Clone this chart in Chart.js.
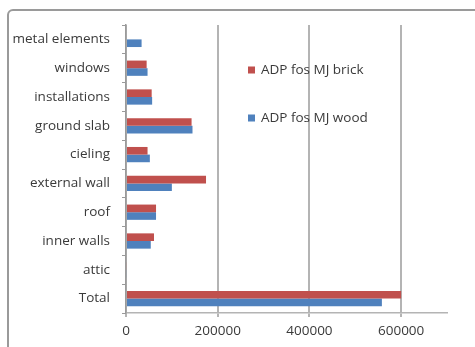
<!DOCTYPE html>
<html>
<head>
<meta charset="utf-8">
<script src="https://cdn.jsdelivr.net/npm/chart.js@4.4.0/dist/chart.umd.min.js"></script>
<style>
html,body{margin:0;padding:0;background:#fff;overflow:hidden;}
#wrap{position:relative;width:475px;height:347px;}
#frame{position:absolute;left:7px;top:9px;width:480px;height:360px;border:2px solid #9a9a9a;border-radius:6px;box-sizing:border-box;}
canvas{position:absolute;left:0;top:0;}
</style>
</head>
<body>
<div id="wrap">
<div id="frame"></div>
<canvas id="c" width="475" height="347"></canvas>
</div>
<script>
const categories = ["metal elements","windows","installations","ground slab","cieling","external wall","roof","inner walls","attic","Total"];
const brickValues = [0, 45000, 56000, 143000, 47000, 174500, 65500, 61000, 2000, 600000];
const woodValues = [34000, 47000, 57000, 145000, 52000, 100000, 65500, 54000, 2000, 558000];
const xTicks = [0, 200000, 400000, 600000];
const seriesNames = ["ADP fos MJ brick", "ADP fos MJ wood"];
const seriesColors = ["#C0504D", "#4F81BD"];

const FONT = "'Open Sans', sans-serif";

const legendPlugin = {
  id: 'customLegend',
  afterDatasetsDraw(chart) {
    const ctx = chart.ctx;
    ctx.save();
    ctx.font = "13.5px " + FONT;
    ctx.textBaseline = "middle";
    ctx.textAlign = "left";
    const rows = [70, 118];
    chart.data.datasets.forEach((ds, i) => {
      const y = rows[i];
      ctx.fillStyle = ds.backgroundColor;
      ctx.fillRect(248, y - 3.5, 7, 7);
      ctx.fillStyle = "#3a3a3a";
      ctx.fillText(ds.label, 261, y);
    });
    ctx.restore();
  }
};

new Chart(document.getElementById('c'), {
  type: 'bar',
  data: {
    labels: categories,
    datasets: [
      { label: seriesNames[0], data: brickValues, backgroundColor: seriesColors[0], barPercentage: 1.0, categoryPercentage: 0.53 },
      { label: seriesNames[1], data: woodValues, backgroundColor: seriesColors[1], barPercentage: 1.0, categoryPercentage: 0.53 }
    ]
  },
  options: {
    indexAxis: 'y',
    responsive: false,
    animation: false,
    devicePixelRatio: 1,
    layout: { padding: { top: 25, right: 28, bottom: 0, left: 0 } },
    plugins: { legend: { display: false }, tooltip: { enabled: false } },
    scales: {
      x: {
        min: 0,
        max: 700000,
        afterBuildTicks(scale) { scale.ticks = xTicks.map(v => ({ value: v })); },
        afterFit(scale) { scale.height = 34; },
        grid: { color: "#b4b4b4", lineWidth: 2, tickLength: 4, drawTicks: true },
        border: { display: true, color: "#b4b4b4", width: 1.5 },
        ticks: { font: { family: FONT, size: 13.5 }, color: "#3a3a3a", padding: 6, maxRotation: 0,
                 callback: (v) => String(v) }
      },
      y: {
        afterFit(scale) { scale.width = 126; },
        grid: { drawOnChartArea: false, tickLength: 4, color: "#9a9a9a", offset: true },
        border: { display: true, color: "#9a9a9a", width: 1.5 },
        ticks: { font: { family: FONT, size: 13.5 }, color: "#3a3a3a", padding: 12 }
      }
    }
  },
  plugins: [legendPlugin]
});
</script>
</body>
</html>
